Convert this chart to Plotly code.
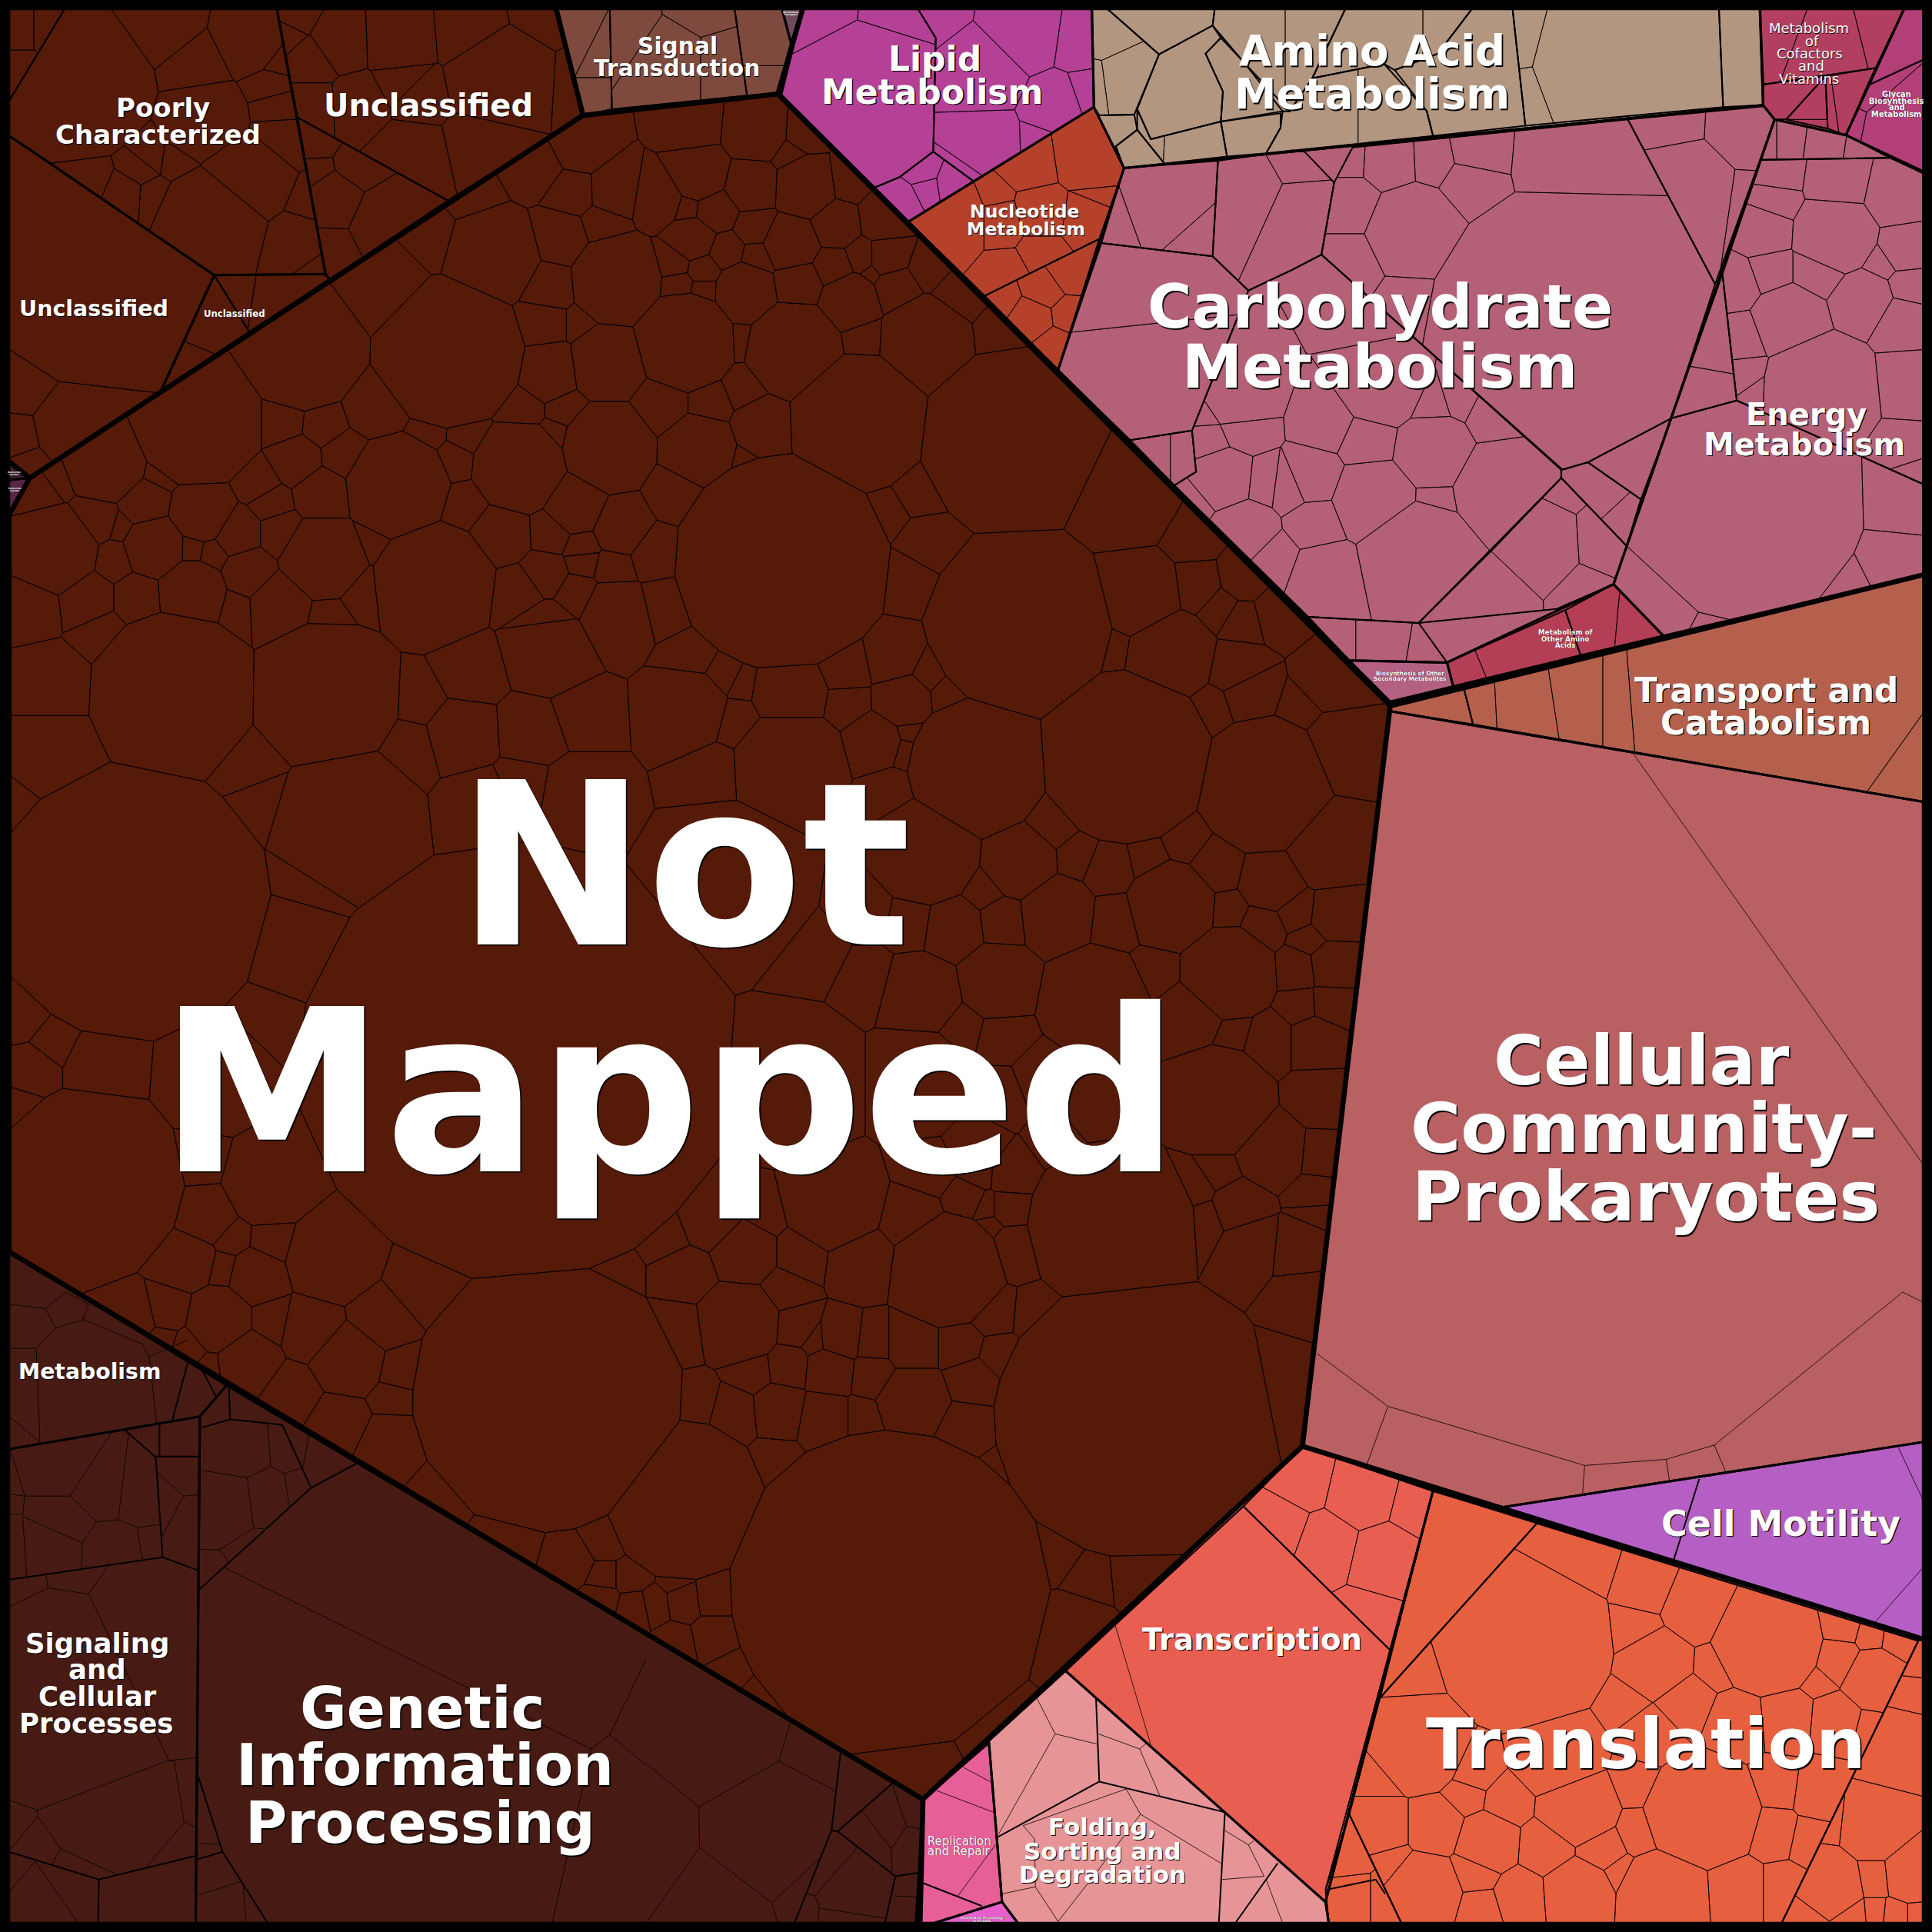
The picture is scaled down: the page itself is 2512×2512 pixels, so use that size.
import plotly.graph_objects as go

# All coordinates on a 4689-unit square, in blocks of 1568 units.
FULL = 4689
BG = "#000000"

def X(c, x): return [0, 1568, 3136][c] + (x * 0.99 if c == 2 else x)
def Y(r, y): return [0, 1568, 3136][r] + (y * 0.99 if r == 2 else y)
def P(c, r, pts): return [(X(c, p[0]), Y(r, p[1])) for p in pts]
def S(c, r, pts): return [(X(c, p[0]), Y(r, p[1]), p[2]) for p in pts]

# ---------- Not Mapped: cell centres and sizes ----------
NM_A = [(735,845,150),(1090,855,180),(930,700,100),(1195,620,115),(1050,580,55),(1150,490,40),(1300,405,60),(1405,350,65),
(1385,465,50),(1490,462,52),(1355,578,62),(1460,545,35),(1330,695,58),(1315,785,55),(1495,680,105),(1405,785,20),
(1475,880,88),(1330,900,70),(1265,990,42),(1370,990,30),(1345,1055,18),(1258,1135,110),(1475,1085,105),(1135,1060,35),
(1035,1055,30),(1105,1120,40),(965,1180,125),(915,985,72),(785,1030,48),(838,1105,52),(685,1020,50),(480,1020,155),
(720,1115,55),(630,1170,35),(785,1200,62),(660,1220,32),(490,1243,70),(575,1295,50),(685,1295,45),(350,1220,50),
(255,1120,95),(385,1150,20),(1128,1228,52),(1215,1295,70),(1335,1290,45),(1395,1225,70),(1505,1275,60),(1410,1320,28),
(1415,1365,22),(1318,1395,50),(1485,1380,28),(1400,1445,42),(1055,1415,145),(785,1355,100),(900,1310,30),(1255,1440,60),
(1490,1490,75),(1320,1540,80),(875,1435,40),(795,1490,33),(680,1465,70),(605,1390,55),(515,1340,25),(465,1330,27),
(465,1440,78),(575,1470,25),(375,1328,70),(275,1360,38),(130,1335,105),(228,1262,50),(290,1280,15),(95,1195,40),
(135,1165,25),(210,1450,58),(335,1450,50),(75,1465,60),(245,1530,35)]
NM_B = [(265,318,70),(115,305,55),(130,420,65),(378,325,25),(345,375,15),(255,450,60),(30,480,50),(385,455,68),(490,440,30),
(105,503,18),(170,510,45),(265,550,38),(350,590,62),(460,545,48),(580,530,50),(115,580,47),(195,610,35),(270,625,30),
(590,625,45),(525,625,28),(455,650,38),(70,640,25),(140,655,30),(550,660,12),(80,695,28),(140,705,26),(240,710,70),
(370,690,50),(495,735,68),(610,700,50),(680,655,38),(755,725,50),(95,830,118),(360,850,115),(230,825,22),(525,820,42),
(680,830,110),(850,810,40),(240,945,42),(40,980,55),(155,980,45),(285,1035,70),(130,1090,85),(235,1115,20),(515,1025,165),
(890,1070,220),(330,1365,258),(580,1245,40),(660,1195,42),(680,1320,55),(635,1400,50),(75,1195,50),(30,1345,48),(50,1460,40),
(1160,1200,125),(910,1510,220),(1190,1440,100),(1330,1300,50),(1340,1420,45),(1450,1400,50),(1395,1470,30),(1445,1500,30),
(1525,1480,35),(1270,1590,100),(1135,1568,30)]
NM_E = [(805,295,165),(1165,270,205),(1505,340,165),(1375,155,30),(1465,125,50),(1430,55,45),(555,235,60),(485,135,35),(625,130,60),
(480,55,50),(600,30,55),(680,70,25),(730,120,25),(625,255,18),(635,210,10),(590,350,40),(350,110,85),(230,90,20),(190,70,30),
(120,30,25),(220,180,37),(105,150,85),(170,300,28),(350,290,130),(200,590,200),(400,750,70),(680,500,125),(530,640,50),
(645,665,45),(820,590,35),(905,520,85),(985,430,50),(1050,510,40),(1125,540,55),(1215,520,40),(1315,475,45),(1275,630,105),
(1385,530,60),(1520,560,75),(1405,640,32),(1495,680,32),(1410,795,110),(1000,650,85),(1140,665,55),(865,665,45),(745,680,65),
(855,815,85),(1090,860,125),(1240,790,45),(1320,895,75),(1425,940,30),(1515,965,55),(1390,1105,130),(1520,1220,85),(1390,1270,35),
(1330,1310,35),(1440,1360,55),(1360,1390,25),(1468,1447,55),(1130,1405,200),(730,1515,135),(893,1465,50),(840,1618,45),(640,1385,70),
(775,1340,40),(820,1360,22),(885,1360,38),(830,1410,12),(455,1340,125),(525,1490,75),(375,1470,55),(240,1470,75),(290,1380,45),
(335,1560,40),(155,1385,75),(55,1425,45),(100,1520,55),(800,1210,60),(650,1060,130),(890,1280,50),(805,1275,35),(680,1270,60),
(860,1090,60),(1090,1120,70),(960,1050,65),(1000,1200,50),(765,930,40),(865,955,50),(665,850,90),(530,815,55),(350,1060,190)]
NM_D = [(420,115,195),(790,120,175),(1020,130,40),(995,250,50),(1125,215,80),(1285,205,70),(1400,165,42),(1145,60,70),(1325,10,100),
(845,420,170),(1170,385,80),(1260,345,60),(1400,370,80),(1260,1012,525),(315,622,325),(615,280,50),(645,360,25),(760,555,20),
(710,730,80),(640,925,30),(120,255,100),(120,100,85),(30,370,25),(50,905,35),(125,965,28),(75,1030,50),(255,1030,85),(50,1110,25),
(220,1300,225),(490,1245,65),(520,1050,135),(655,1290,115),(500,1375,70),(560,1430,30),(665,1440,42),(450,1490,65),(810,1480,110),
(540,1510,17),(625,1530,60),(1020,1550,70),(1329,1822,324),(1480,1520,25)]
NM_G = [(530,70,75),(410,45,45),(660,70,38),(760,90,70),(600,170,70),(845,165,85),(965,190,40),(950,255,27),(820,320,65),(925,65,70),
(710,250,60),(945,380,70),(1065,490,45),(1240,610,60),(1380,650,55),(1470,595,60),(1470,690,25),(1530,690,35),(1460,760,30),
(1540,780,35),(400,110,20),(460,130,35),(515,180,20),(345,60,30)]
NM_H = [(590,730,385),(1183,310,335),(90,510,190),(120,275,40),(80,95,50),(225,75,95),(360,85,38),(415,125,15),(470,120,42),(555,130,33),
(650,130,60),(760,130,50),(855,155,40),(945,60,40),(790,220,55),(650,270,85),(525,310,38),(445,195,55),(550,205,45),(345,185,45),
(260,195,38),(325,290,62),(215,300,50),(430,310,62),(315,410,35),(775,335,65),(845,430,12),(995,640,50),(1080,700,50),(1190,690,60),
(1035,840,95),(850,1050,45),(645,1160,55),(75,710,18),(95,760,38),(170,750,48),(20,770,30),(170,840,50),(70,860,38),(210,920,30),
(280,985,18),(1530,240,60)]
NM_F = [(125,260,100),(90,475,110),(20,165,30),(100,90,60),(20,330,50),(110,650,60),(15,640,35),(45,710,17),(105,775,52),(15,785,30),
(100,875,45),(25,880,30),(60,965,65),(65,1095,70),(60,1230,50),(50,1320,28),(0,1230,25),(55,1400,30),(30,1460,65),(40,1555,40)]

# ---------- Upper-left categories ----------
PC_A = [(45,70,35),(110,70,25),(45,170,30),(190,210,170),(400,60,75),(600,100,75),(480,160,65),(665,150,20),(650,210,35),(500,290,95),
(665,265,40),(670,345,60),(360,385,20),(430,395,22),(340,410,25),(600,430,105),(510,540,130),(375,480,35),(300,475,40),(220,440,30),
(745,490,18),(715,590,60),(750,640,15)]
UN_TOP = [(725,45,30),(705,85,25),(825,100,65),(760,145,50),(760,255,48),(970,95,80),(1145,80,80),(1300,50,40),(1215,190,125),(1385,200,20),
(980,190,50),(865,250,55),(1020,230,50),(1000,385,75),(1180,345,85),(770,340,35),(870,405,50),(775,420,25),(815,480,60),(950,540,90),(810,610,35)]
UN_LEFT = [(230,680,255),(65,935,55),(190,1030,100),(50,1060,30),(75,1130,25)]
UN_SMALL = [(500,770,60),(450,890,35),(570,700,35),(700,720,80)]
SIGNAL_S = [(1390,110,40),(1450,140,30),(1450,240,35),(1640,150,80),(1520,70,30),(1700,50,30),(1730,150,60),(1850,100,50),(1850,200,25)]

# ---------- Metabolism categories ----------
LIPID_S = [(540,250,190),(430,40,40),(600,60,50),(705,45,25),(810,180,100),(910,80,85),(1050,100,40),(985,260,60),(1070,230,15),(815,335,80),
(960,330,25),(770,400,30),(620,490,35),(670,420,20),(680,460,20),(745,450,30)]
NUC_S = [(1070,380,75),(935,400,55),(850,490,20),(730,540,95),(960,515,60),(1060,530,50),(1080,480,8),(860,540,50),(770,670,30),(870,660,40),
(960,610,40),(1030,650,50),(960,700,40),(870,730,30),(930,770,45),(1020,760,15),(985,840,25)]
AMINO_S = [(2690,80,45),(2665,200,15),(2740,190,60),(2705,310,30),(2750,375,25),(2870,220,90),(2820,70,50),(2880,345,50),(2790,340,30),
(3040,340,50),(3040,200,70),(3050,80,60),(3180,80,50),(3390,90,70),(3240,260,50),(3380,260,80),(3560,200,90),(3450,90,30),(3695,90,30),
(3720,240,35),(3945,155,215),(4225,140,45)]
COF_S = [(4320,65,45),(4440,110,80),(4560,80,50),(4480,235,30),(4445,240,10),(4400,260,30),(4400,300,10)]
GLY_S = [(4610,320,90),(4510,300,25),(4540,240,25),(4640,90,50)]
CARB_K = [(2838,490,95),(2700,540,25),(2900,560,60),(3028,480,85),(3160,540,100),(3150,410,40),(2760,700,120),(2780,890,130),(2790,1110,35),(2880,1110,15)]
CARB_3 = [(150,500,60),(150,630,55),(295,560,110),(240,395,60),(150,390,20),(345,390,45),(445,370,45),(430,445,50),(680,390,110),(670,790,330),
(285,720,35),(190,780,45),(920,320,35),(1100,330,30),(950,480,130),(1090,500,45),(745,1180,60),(820,1260,30),(595,1320,105),(760,1310,60),
(655,1195,20),(480,1440,100),(710,1430,35),(220,930,100),(85,1025,55),(185,1070,55),(345,1095,85),(340,985,35),(405,965,25),(495,1010,42),
(520,1190,115),(350,1220,30),(200,1215,95),(50,1160,60),(60,1270,55),(310,1365,145),(90,1410,90)]
CARB_2 = [(1370,1075,35),(1400,1160,70),(1495,1170,35),(1570,1180,45),(1450,1040,45),(1365,1000,20),(1440,950,85),(1450,1290,70),(1520,1360,50),(1340,1210,25)]
CARB_U = [(3240,1550,45),(3350,1550,55),(3470,1570,25)]
ENERGY_S = [(1170,340,15),(1220,340,30),(1300,350,35),(1400,365,15),(1195,420,40),(1340,440,70),(1480,470,70),(1185,490,40),(1160,560,55),(1330,570,95),
(1500,600,48),(1440,640,20),(1095,690,40),(1180,660,45),(1290,660,60),(1395,735,75),(1510,700,35),(1490,790,65),(1225,780,90),(1115,820,40),
(1125,910,30),(1300,950,145),(1500,930,80),(1490,1080,50),(1510,1140,20),(1150,945,30),(1030,800,70),(1000,970,35),(1110,1220,285),(1475,1210,70),
(1460,1360,55),(1360,1410,30),(905,1440,90),(1040,1510,20)]
OTHER_S = [(3535,1630,15),(3680,1570,75),(3860,1500,55),(3970,1510,30)]
TRANSPORT_S = [(3602,1705,27),(3699,1700,69),(3829,1680,61),(3922,1680,32),(4300,1650,345),(4650,1900,80)]

# ---------- Genetic information categories ----------
TRANSL_2 = [(570,860,210),(680,660,100),(870,720,65),(990,770,80),(845,830,55),(890,910,85),(1165,855,130),(1345,820,35),(1420,840,22),(1490,850,35),
(1335,900,45),(1430,950,70),(1040,920,40),(1290,950,15),(820,1010,45),(965,1010,65),(1090,1060,75),(1210,1050,70),(1330,1060,65),(1410,1080,45),
(880,1090,70),(650,1130,110),(310,1105,115),(300,945,40),(210,1190,40),(210,1310,70),(350,1310,60),(430,1230,35),(450,1170,50),(530,1245,50),
(480,1350,70),(700,1260,95),(625,1360,60),(850,1200,55),(855,1320,45),(1005,1270,140),(1190,1205,55),(1300,1220,70),(1180,1320,50),(1275,1340,45),
(1205,1470,50),(1085,1470,70),(915,1480,110),(755,1365,50),(795,1420,25),(700,1470,80),(560,1480,55),(460,1510,40),(320,1470,90),(450,1420,45),(235,1400,45),
(125,1370,40),(140,1500,50),(230,1500,35),
(1520,900,25),(1510,985,25),(1480,1115,85),(1430,1310,85),(1335,1300,25),(1520,1420,70),(1315,1450,80),(1270,1510,35),(1370,1530,30),(1430,1525,16),(1480,1530,25),(1530,1530,15),(1430,1430,40)]
TRANSC_S = [(40,470,40),(170,500,75),(290,530,35),(90,620,70),(220,650,75),(180,790,35),(-20,580,45)]

# ---------- Category outlines ----------
NM_POLY = [(22,1250),(72,1160),(1415,280),(1888,228),(3374,1713),(3161,3510),(2240,4367),(22,3038)]
PC_POLY = [(22,22),(672,22),(790,665),(520,668),(75,365),(22,330)]
UT_POLY = [(672,22),(1350,22),(1415,280),(800,678),(790,665)]
UL_POLY = [(22,330),(75,365),(520,668),(390,950),(72,1160),(22,1120)]
US_POLY = [(520,668),(790,665),(800,678),(390,950)]
TINY1 = [(22,1120),(72,1160),(22,1165)]
TINY2 = [(22,1165),(72,1160),(22,1250)]
SIG_POLY = [(1350,22),(1898,22),(1920,105),(1888,228),(1415,280)]
MEM_POLY = [(1898,22),(1948,22),(1920,105)]
LIP_POLY = P(1,0,[(380,22),(1082,22),(1087,260),(637,538),(328,230)])
NUC_POLY = P(1,0,[(637,538),(1087,260),(1160,408),(1000,898)])
AMI_POLY = [(2650,22),(4271,22),(4279,255),(2728,408),(2655,260)]
COF_POLY = [(4272,22),(4621,22),(4480,328),(4307,290),(4279,255)]
GLY_POLY = [(4621,22),(4668,22),(4668,416),(4480,328)]
CAR_POLY = [(2728,408),(4279,255),(4307,290),(3916,1418),(3512,1608),(3275,1603),(2568,898)]
ENE_POLY = P(2,0,[(1183,290),(1358,328),(1547,420),(1547,1395),(910,1543),(788,1418)])
OTH_POLY = [(3916,1418),(4037,1543),(3527,1666),(3512,1608)]
BIO_POLY = [(3275,1603),(3512,1608),(3527,1666),(3374,1703)]
TRP_POLY = [(3374,1712),(4668,1395),(4668,1946),(3374,1726)]
CEL_POLY = [(3374,1726),(4667,1946),(4667,3500),(3646,3658),(3161,3510)]
MOT_POLY = [(3646,3658),(4667,3500),(4667,3978)]
TRL_POLY = [(3478,3618),(4667,3978),(4667,4667),(3225,4667),(3217,4616)]
TRC_POLY = [(3161,3510),(3478,3618),(3217,4616),(2586,4055)]
FOL_POLY = [(2586,4055),(3217,4616),(3225,4667),(2470,4667),(2432,4616),(2400,4225)]
REP_POLY = [(2240,4367),(2400,4230),(2432,4616),(2268,4667),(2233,4667)]
VIR_POLY = [(2268,4667),(2432,4616),(2470,4667)]
MET_POLY = [(22,3038),(550,3362),(485,3438),(22,3517)]
SIC_POLY = [(22,3517),(485,3438),(475,4667),(22,4667)]
GEN_POLY = [(485,3438),(550,3362),(2240,4367),(2223,4667),(475,4667)]

# ---------- Sub-groups inside categories ----------
SUB_PC = [[(22,22),(157,22),(22,245)],[(157,22),(672,22),(790,665),(520,668),(75,365),(22,330),(22,245)]]
SUB_UT = [[(672,22),(1350,22),(1415,280),(1087,487),(722,285)],[(722,285),(1087,487),(800,678),(790,665)]]
SUB_US = [[(520,668),(605,805),(390,950)],[(520,668),(790,665),(800,678),(605,805)]]
SUB_SIG = [[(1350,22),(1480,22),(1485,265),(1415,280)],[(1480,22),(1783,22),(1813,232),(1485,265)],[(1783,22),(1898,22),(1920,105),(1888,228),(1813,232)]]
SUB_LIP = [P(1,0,[(380,22),(660,22),(703,92),(697,368),(615,430),(555,455),(328,230)]),
           P(1,0,[(660,22),(1082,22),(1087,260),(795,440),(697,368),(703,92)]),
           P(1,0,[(555,455),(615,430),(697,368),(795,440),(690,505),(637,538)])]
SUB_NUC = [P(1,0,[(637,538),(1087,260),(1160,408),(1100,580),(822,718)]),P(1,0,[(822,718),(1100,580),(1000,898)])]
SUB_AMI = [[(2650,22),(2688,22),(2813,132),(2753,278),(2668,280),(2655,260)],[(2668,280),(2753,278),(2760,315),(2708,355),(2728,408),(2655,260)],
 [(2708,355),(2760,315),(2826,397),(2728,408)],[(2813,132),(2943,62),(2963,92),(2926,130),(2968,222),(2963,295),(2793,338),(2760,265)],
 [(2688,22),(2948,22),(2943,62),(2813,132)],[(2793,338),(2963,295),(2978,380),(2826,397),(2760,315),(2760,265)],
 [(2963,295),(3108,275),(3108,310),(3073,372),(2978,380)],[(2968,222),(2926,130),(2963,92),(3018,150),(3113,270),(2963,295)],
 [(2948,22),(3265,22),(3185,190),(3130,270),(3018,150),(2943,62)],[(3265,22),(3572,22),(3490,130),(3385,170),(3359,155),(3185,190)],
 [(3572,22),(3671,22),(3702,305),(3478,330),(3463,270),(3385,170),(3490,130)],[(3185,190),(3359,155),(3463,270),(3478,330),(3073,372),(3108,310),(3113,270),(3130,270)],
 [(3671,22),(4172,22),(4182,260),(3702,305)],[(4172,22),(4271,22),(4279,255),(4182,260)]]
SUB_COF = [[(4272,22),(4621,22),(4552,165),(4280,205)],[(4280,205),(4430,185),(4335,290),(4307,290),(4279,255)],[(4335,290),(4430,185),(4436,312)],[(4430,185),(4552,165),(4480,328),(4436,312)]]
SUB_GLY = [[(4621,22),(4668,22),(4668,145),(4532,208)],[(4532,208),(4668,145),(4668,416),(4480,328)]]
SUB_CAR = [[(2728,408),(2956,390),(2943,622),(2673,590)],[(2956,390),(3136,365),(3166,368),(3238,443),(3207,618),(3136,655),(3030,705),(2943,622)],
 [(2673,590),(2943,622),(3030,705),(2893,1045),(2743,1068),(2568,898)],[(2743,1068),(2893,1045),(2903,1145),(2850,1178)],
 [(3030,705),(3136,655),(3207,618),(3433,820),(3789,1140),(3789,1160),(3443,1512),(3175,1497),(2953,1280),(2850,1178),(2903,1145),(2893,1045)],
 P(2,0,[(148,358),(823,290),(1037,690),(930,1015),(725,1122),(663,1140),(300,820),(72,618),(103,443)]),
 P(2,0,[(823,290),(1155,258),(1183,290),(1037,690)]),P(2,0,[(930,1015),(855,1212),(725,1122)]),
 P(2,0,[(660,1140),(725,1122),(855,1212),(820,1325),(660,1160)]),P(2,0,[(660,1160),(820,1325),(788,1418),(648,1478),(310,1512),(490,1335)]),
 [(3275,1603),(3512,1608),(3443,1512),(3175,1497)]]
SUB_ENE = [P(2,0,[(1183,290),(1358,328),(1465,383),(1150,388)]),P(2,0,[(1465,383),(1547,420),(1547,1175),(1090,972),(1055,665),(1150,388)]),
 P(2,0,[(1090,972),(1547,1175),(1547,1395),(910,1543),(788,1418),(930,1015)]),P(2,0,[(1055,665),(1090,972),(930,1015)])]
SUB_OTH = [[(3512,1608),(3799,1481),(3836,1590),(3527,1666)],[(3799,1481),(3916,1418),(4037,1543),(3836,1590)]]
SUB_TRP = [[(3374,1712),(3552,1668),(3575,1758),(3374,1726)],[(3552,1668),(4668,1395),(4668,1946),(3575,1758)]]
SUB_TRL = [[(3478,3618),(3730,3697),(3349,4121)],P(2,2,[(600,567),(1535,855),(1200,1547),(268,1547),(140,1280),(215,995)]),
 P(2,2,[(140,1280),(268,1547),(90,1547),(82,1465)]),P(2,2,[(1535,855),(1547,850),(1547,1547),(1200,1547)]),
 P(2,2,[(345,487),(215,995),(140,1280),(82,1465)])]
SUB_TRC = [[(3161,3510),(3478,3618),(3374,4005),(3018,3656)],[(3018,3656),(3374,4005),(3217,4616),(2586,4055)]]

# ---------- Hand-traced edges of the large cells ----------
THIN_Z9 = [[(60,150),(235,280),(717,425),(917,410),(1035,375),(1497,0)],[(235,280),(183,423)],[(717,425),(712,495)],[(917,410),(925,462)],[(1035,375),(1063,440)],
 [(1497,0),(1547,25)],[(1487,383),(1547,510)],[(1547,675),(1430,808)]]
THIN_Z6 = [[(837,262),(1547,1258)]]
THIN_Z8 = [[(1138,815),(1225,1110)],[(948,995),(993,1083),(1095,1108)],[(993,1083),(855,1330)],[(1098,1083),(1198,1120),(1215,1105)],[(1198,1120),(1247,1235)],
 [(915,1308),(1165,1218),(1200,1280),(1395,1400)],[(915,1308),(943,1340),(945,1458),(865,1475)],[(945,1458),(1000,1543),(1095,1420),(1200,1280)],
 [(1405,1320),(1462,1355),(1475,1345)],[(1462,1355),(1500,1432),(1397,1440)],[(1505,1440),(1545,1547)],[(770,1165),(835,1200)],[(705,1222),(843,1275)],[(848,1355),(757,1480)],
 [(0,1155),(128,1262),(322,1150),(350,1055)],[(322,1150),(458,1222)],[(128,1262),(130,1362),(305,1497),(320,1547)],[(130,1362),(0,1547)],[(305,1497),(420,1390)],
 [(525,1272),(595,1365),(632,1310)],[(597,1205),(632,1310),(665,1315)],[(595,1365),(597,1430)],[(600,1480),(660,1483)],[(512,1362),(410,1480),(420,1510),(582,1535)],[(420,1510),(418,1547)],[(390,1475),(410,1480)]]
THIN_Z7 = [[(22,305),(97,368)],[(110,40),(135,88),(202,67),(345,127),(362,158),(380,320)],[(135,88),(88,138),(97,368)],[(22,138),(88,138)],[(362,158),(455,118)],[(202,67),(215,30),(160,0)],[(22,30),(110,40),(160,0)],
 [(25,385),(60,500),(22,495)],[(60,500),(170,500),(270,345)],[(170,500),(235,563),(200,615),(55,550),(60,500)],[(55,550),(65,698)],[(22,545),(55,545)],[(235,563),(287,558),(312,348)],[(287,558),(333,577),(385,570)],[(333,577),(345,655)],[(200,615),(198,678)],[(380,440),(445,500),(393,600)],[(445,500),(482,497)],
 [(112,695),(117,725),(215,740),(262,672)],[(117,725),(22,772)],[(215,740),(410,1148),(475,1142)],[(410,1148),(90,1270),(22,1245)],[(410,1148),(423,1150),(447,1300),(475,1312)],[(447,1300),(355,1410)],[(90,1270),(92,1285),(147,1365),(285,1428)],[(92,1285),(22,1370)],[(147,1365),(125,1405)],[(22,1470),(85,1395),(190,1547)],
 [(490,437),(600,455),(657,427),(650,325)],[(600,455),(615,578),(640,580)],[(657,427),(690,445),(735,430),(750,350)],[(690,445),(702,525)],[(485,630),(533,632),(555,662)],[(533,632),(615,578)],[(545,675),(1435,1120)],[(482,1350),(535,1355)],[(590,1450),(597,1547)],[(480,1478),(585,1445)],
 [(1435,1120),(1480,1085),(1568,900)],[(1435,1120),(1340,1547)],[(1480,1085),(1568,1160)]]
MED_Z8 = [[(1092,995),(1100,1200),(855,1335)],[(1100,1200),(1405,1275),(1390,1547)],[(1533,1400),(1430,1547)],[(668,1447),(815,1505)],
 [(472,1130),(450,1320),(465,1322),(605,1432),(665,1423)],[(465,1322),(597,1205)],[(450,1320),(360,1547)],[(605,1432),(580,1547)]]
MED_Z7 = [[(455,175),(418,315)],[(490,190),(525,258)],[(305,340),(378,405),(395,650)],[(22,705),(395,650),(480,682)],[(378,403),(483,403)],[(387,322),(387,403)],
 [(22,1372),(240,1440),(475,1382)],[(240,1440),(238,1547)],[(485,728),(755,480),(865,420)],[(755,480),(685,325)],[(490,332),(558,312),(685,325)],[(558,312),(556,232)],
 [(482,1190),(540,1372),(650,1547)],[(480,1390),(540,1372)]]
MED_Z9 = [[(998,458),(935,658)],[(85,1465),(205,1440),(228,1475)]]

# ---------- Category table ----------
CATEGORIES = [
 ("Not Mapped", NM_POLY, "#551a08", None, S(0,0,NM_A)+S(1,0,NM_B)+S(1,1,NM_E)+S(0,1,NM_D)+S(0,2,NM_G)+S(1,2,NM_H)+S(2,1,NM_F)),
 ("Poorly Characterized", PC_POLY, "#551a08", SUB_PC, S(0,0,PC_A)),
 ("Unclassified", UT_POLY, "#551a08", SUB_UT, S(0,0,UN_TOP)),
 ("Unclassified", UL_POLY, "#551a08", None, S(0,0,UN_LEFT)),
 ("Unclassified", US_POLY, "#551a08", SUB_US, S(0,0,UN_SMALL)),
 ("Endocrine System", TINY1, "#3c1a2c", None, []),
 ("Endocrine System", TINY2, "#5b2546", None, []),
 ("Signal Transduction", SIG_POLY, "#7e4a3d", SUB_SIG, S(0,0,SIGNAL_S)),
 ("Membrane Transport", MEM_POLY, "#704a5c", None, []),
 ("Lipid Metabolism", LIP_POLY, "#b44196", SUB_LIP, S(1,0,LIPID_S)),
 ("Nucleotide Metabolism", NUC_POLY, "#b5412b", SUB_NUC, S(1,0,NUC_S)),
 ("Amino Acid Metabolism", AMI_POLY, "#b39680", SUB_AMI, S(0,0,AMINO_S)),
 ("Metabolism of Cofactors and Vitamins", COF_POLY, "#b33f60", SUB_COF, S(0,0,COF_S)),
 ("Glycan Biosynthesis and Metabolism", GLY_POLY, "#b33f78", SUB_GLY, S(0,0,GLY_S)),
 ("Carbohydrate Metabolism", CAR_POLY, "#b46076", SUB_CAR, S(0,0,CARB_K)+S(2,0,CARB_3)+S(1,0,CARB_2)+S(0,0,CARB_U)),
 ("Energy Metabolism", ENE_POLY, "#b46076", SUB_ENE, S(2,0,ENERGY_S)),
 ("Metabolism of Other Amino Acids", OTH_POLY, "#b43e55", SUB_OTH, S(0,0,OTHER_S)),
 ("Biosynthesis of Other Secondary Metabolites", BIO_POLY, "#b46082", None, []),
 ("Transport and Catabolism", TRP_POLY, "#b5604c", SUB_TRP, S(0,0,TRANSPORT_S)),
 ("Cellular Community-Prokaryotes", CEL_POLY, "#b96063", None, []),
 ("Cell Motility", MOT_POLY, "#b55fc4", None, []),
 ("Translation", TRL_POLY, "#e65f3f", SUB_TRL, S(2,2,TRANSL_2)),
 ("Transcription", TRC_POLY, "#e85f52", SUB_TRC, S(2,2,TRANSC_S)),
 ("Folding, Sorting and Degradation", FOL_POLY, "#e69496", None, []),
 ("Replication and Repair", REP_POLY, "#e65f96", None, []),
 ("Information Processing in Viruses", VIR_POLY, "#e65fcb", None, []),
 ("Metabolism", MET_POLY, "#471b13", None, []),
 ("Signaling and Cellular Processes", SIC_POLY, "#471b13", None, []),
 ("Genetic Information Processing", GEN_POLY, "#471b13", None, []),
]

# Lines of text: text, centre x, baseline y, font size in px, bold
LABELS = [
 ("Not",1661,2292,295,1),("Mapped",1624,2843,295,1),
 ("Carbohydrate",3349,795,78.5,1),("Metabolism",3349,940,78.5,1),
 ("Cellular",3985,2631,89,1),("Community-",3990,2796,89,1),("Prokaryotes",3995,2961,89,1),
 ("Translation",3994,4289,91,1),
 ("Amino Acid",3330,157,54.7,1),("Metabolism",3330,262,54.7,1),
 ("Lipid",2268,170,44,1),("Metabolism",2263,250,44,1),
 ("Nucleotide",2488,528,23.5,1),("Metabolism",2490,572,23.5,1),
 ("Signal",1645,130,29.7,1),("Transduction",1642,183,29.7,1),
 ("Poorly",395,283,34,1),("Characterized",383,347,34,1),
 ("Unclassified",1040,280,40,1),("Unclassified",227,767,28.5,1),("Unclassified",570,770,11.7,1),
 ("Energy",4383,1030,40,1),("Metabolism",4380,1103,40,1),
 ("Metabolism",4391,80,18,0),("of",4397,112,18,0),("Cofactors",4393,142,18,0),("and",4395,172,18,0),("Vitamins",4391,203,18,0),
 ("Glycan",4604,235,10,1),("Biosynthesis",4604,252,10,1),("and",4604,268,10,1),("Metabolism",4604,284,10,1),
 ("Metabolism of",3799,1540,8.8,1),("Other Amino",3799,1557,8.8,1),("Acids",3799,1573,8.8,1),
 ("Biosynthesis of Other",3422,1641,7.3,1),("Secondary Metabolites",3422,1653,7.3,1),
 ("Transport and",4287,1703,43.6,1),("Catabolism",4285,1781,43.6,1),
 ("Cell Motility",4322,3727,46,1),("Transcription",3039,4002,38.6,1),
 ("Folding,",2676,4453,31,1),("Sorting and",2676,4512,31,1),("Degradation",2676,4568,31,1),
 ("Replication",2328,4479,15,0),("and Repair",2328,4503,15,0),
 ("Information Processing",2383,4659,4.2,1),("in Viruses",2383,4667,4.2,1),
 ("Metabolism",217,3346,28.3,1),
 ("Signaling",237,4009,35.5,1),("and",237,4073,35.5,1),("Cellular",237,4139,35.5,1),("Processes",235,4203,35.5,1),
 ("Genetic",1025,4192,74,1),("Information",1031,4331,74,1),("Processing",1020,4470,74,1),
 ("Endocrine",35,1150,3,1),("System",35,1155,3,1),("Endocrine",37,1190,3,1),("System",37,1195,3,1),
 ("Membrane",1920,33,3.4,1),("Transport",1920,40,3.4,1),
]

WIDTH_TOP, WIDTH_CAT, WIDTH_SUB, WIDTH_LEAF = 6.6, 3.0, 2.0, 0.8

# ---------- Geometry helpers ----------
def clip(poly, a, b, c):
    out = []
    n = len(poly)
    for i in range(n):
        p, q = poly[i], poly[(i + 1) % n]
        fp = a * p[0] + b * p[1] - c
        fq = a * q[0] + b * q[1] - c
        if fp <= 0:
            out.append(p)
        if (fp < 0 < fq) or (fq < 0 < fp):
            t = fp / (fp - fq)
            out.append((p[0] + t * (q[0] - p[0]), p[1] + t * (q[1] - p[1])))
    return out

def inside(pt, poly):
    x, y = pt
    res = False
    for i in range(len(poly)):
        x1, y1 = poly[i]
        x2, y2 = poly[(i + 1) % len(poly)]
        if (y1 > y) != (y2 > y) and x < x1 + (y - y1) * (x2 - x1) / (y2 - y1):
            res = not res
    return res

def cells(poly, seeds):
    result = []
    for i, si in enumerate(seeds):
        cell = list(poly)
        for j, sj in enumerate(seeds):
            if i == j or (si[0] == sj[0] and si[1] == sj[1]):
                continue
            a = 2 * (sj[0] - si[0])
            b = 2 * (sj[1] - si[1])
            c = sj[0]**2 + sj[1]**2 - sj[2]**2 - si[0]**2 - si[1]**2 + si[2]**2
            cell = clip(cell, a, b, c)
            if not cell:
                break
        if len(cell) > 2:
            result.append(cell)
    return result

class Lines:
    def __init__(self):
        self.x, self.y = [], []
    def add(self, pts, closed=False):
        seq = list(pts) + ([pts[0]] if closed else [])
        self.x += [p[0] for p in seq] + [None]
        self.y += [p[1] for p in seq] + [None]

fig = go.Figure()
top, cat, sub, leaf = Lines(), Lines(), Lines(), Lines()

for name, poly, colour, subs, seeds in CATEGORIES:
    xs = [p[0] for p in poly] + [poly[0][0]]
    ys = [p[1] for p in poly] + [poly[0][1]]
    fig.add_trace(go.Scatter(x=xs, y=ys, mode="lines", fill="toself", fillcolor=colour,
                             line=dict(width=0, color=colour), name=name, hoverinfo="name", showlegend=False))
    cat.add(poly, True)
    for part in (subs or [poly]):
        if subs:
            sub.add(part, True)
        inner = [s for s in seeds if inside(s[:2], part)]
        if len(inner) > 1:
            for c in cells(part, inner):
                leaf.add(c, True)

for group, c, r, store in [(THIN_Z9,2,2,leaf),(THIN_Z6,2,1,leaf),(THIN_Z8,1,2,leaf),(THIN_Z7,0,2,leaf),
                           (MED_Z8,1,2,sub),(MED_Z7,0,2,sub),(MED_Z9,2,2,sub)]:
    for line in group:
        store.add(P(c, r, [(a, b, 0) for a, b in line]))

top.add(NM_POLY, True)
for line in [[(1350,22),(1415,280)],[(1948,22),(1888,228)],[(22,1120),(72,1160)],[(3374,1713),(4668,1395)],
             [(3161,3510),(4667,3978)],[(2240,4367),(2233,4667)]]:
    top.add(line)

for store, w in [(leaf, WIDTH_LEAF), (sub, WIDTH_SUB), (cat, WIDTH_CAT), (top, WIDTH_TOP)]:
    fig.add_trace(go.Scatter(x=store.x, y=store.y, mode="lines", line=dict(color="#000000", width=w),
                             hoverinfo="skip", showlegend=False, connectgaps=False))

annotations = []
for text, x, y, size, bold in LABELS:
    off = max(0.4, min(1.6, size / 35))
    annotations.append(dict(text=text, x=x, y=y, xref="x", yref="y", xanchor="center", yanchor="bottom",
                            yshift=-0.236 * size - min(1.6, size / 20), showarrow=False, borderpad=0,
                            font=dict(family="DejaVu Sans", size=size, color="#ffffff",
                                      weight="bold" if bold else "normal",
                                      shadow=f"{off:.1f}px {off:.1f}px {off/2:.1f}px #000000")))

fig.update_layout(width=2512, height=2512, margin=dict(l=0, r=0, t=0, b=0), paper_bgcolor=BG, plot_bgcolor=BG,
                  xaxis=dict(range=[0, FULL], visible=False, fixedrange=True),
                  yaxis=dict(range=[FULL, 0], visible=False, fixedrange=True),
                  annotations=annotations, showlegend=False)
fig.write_html("out.html", config={"displayModeBar": False},
               post_script="document.body.style.margin='0';document.body.style.background='#000';")
